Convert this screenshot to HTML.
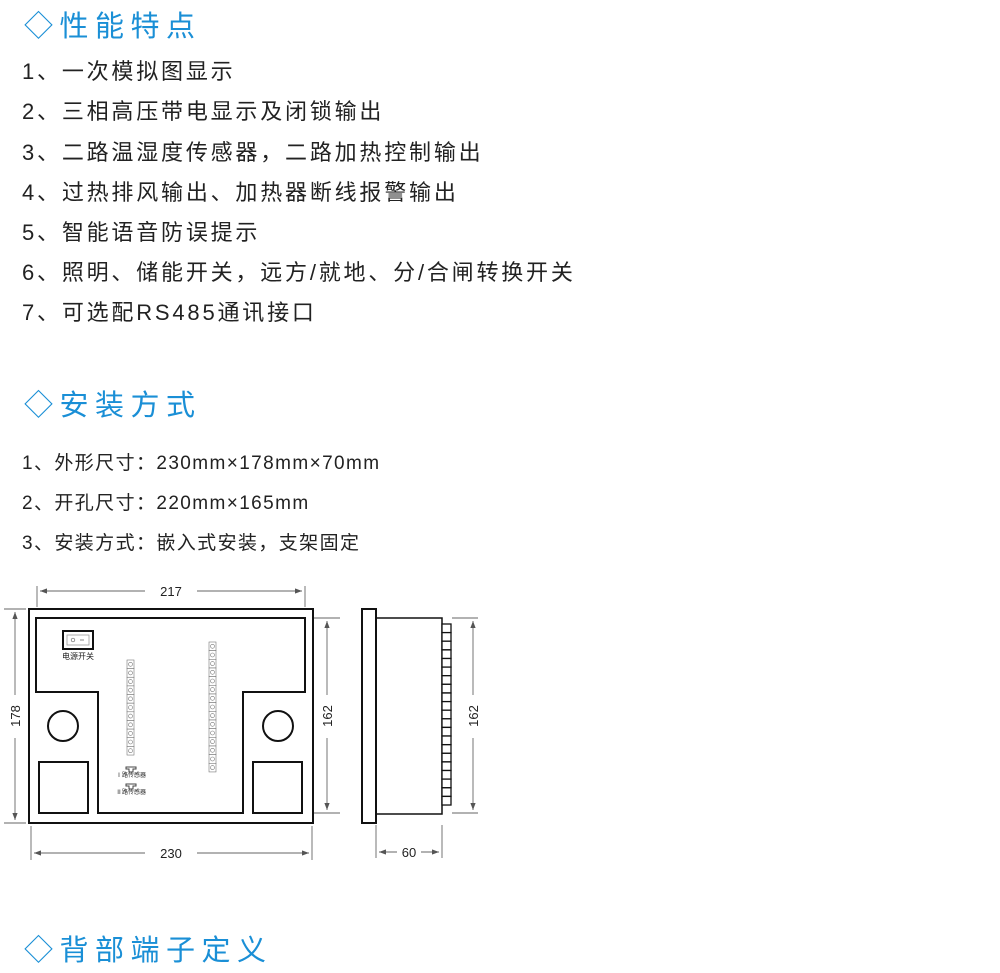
<!DOCTYPE html>
<html><head><meta charset="utf-8"><style>
body{margin:0;width:1000px;height:973px;background:#fff;position:relative;overflow:hidden;font-family:"Liberation Sans","Noto Sans CJK SC",sans-serif;}
.h{position:absolute;left:24px;color:#1a8fd6;font-size:29px;letter-spacing:6.5px;line-height:34px;white-space:nowrap}
.t{position:absolute;left:22px;color:#222;font-size:22px;letter-spacing:2.8px;line-height:26px;white-space:nowrap}
.s{position:absolute;left:22px;color:#222;font-size:19px;letter-spacing:1.4px;line-height:24px;white-space:nowrap}
svg{position:absolute;left:0;top:0}
</style></head><body>
<div class="h" style="top:10px">◇性能特点</div>
<div class="t" style="top:59px">1、一次模拟图显示</div>
<div class="t" style="top:99px">2、三相高压带电显示及闭锁输出</div>
<div class="t" style="top:140px">3、二路温湿度传感器，二路加热控制输出</div>
<div class="t" style="top:180px">4、过热排风输出、加热器断线报警输出</div>
<div class="t" style="top:220px">5、智能语音防误提示</div>
<div class="t" style="top:260px">6、照明、储能开关，远方/就地、分/合闸转换开关</div>
<div class="t" style="top:300px">7、可选配RS485通讯接口</div>
<div class="h" style="top:389px">◇安装方式</div>
<div class="s" style="top:452px">1、外形尺寸：230mm×178mm×70mm</div>
<div class="s" style="top:492px">2、开孔尺寸：220mm×165mm</div>
<div class="s" style="top:532px">3、安装方式：嵌入式安装，支架固定</div>
<div class="h" style="top:934px">◇背部端子定义</div>
<svg width="1000" height="973" xmlns="http://www.w3.org/2000/svg">
<defs>
<marker id="a" markerWidth="8" markerHeight="6" refX="8" refY="3" orient="auto-start-reverse"><path d="M0,0L8,3L0,6z" fill="#555"/></marker>
<g id="tc"><rect x="0" y="0" width="7" height="8.64" fill="#fff" stroke="#777" stroke-width="0.6"/><circle cx="3.5" cy="4.3" r="2" fill="none" stroke="#777" stroke-width="0.6"/></g>
<rect id="sc" x="0" y="0" width="9" height="8.62" fill="#fff" stroke="#111" stroke-width="1.3"/>
</defs>
<g fill="none" stroke="#111" stroke-width="2">
<rect x="29" y="609" width="284" height="214"/>
<path d="M36,618H305V692H243V813H98V692H36Z"/>
<circle cx="63" cy="726" r="15"/><circle cx="278" cy="726" r="15"/>
<rect x="39" y="762" width="49" height="51"/><rect x="253" y="762" width="49" height="51"/>
<rect x="63" y="631" width="30" height="18"/>
<rect x="362" y="609" width="14" height="214"/>
<rect x="376" y="618" width="66" height="196" stroke-width="1.5"/>
</g>
<rect x="67" y="635" width="22" height="10" fill="none" stroke="#999" stroke-width="0.8"/>
<circle cx="73" cy="640" r="1.8" fill="none" stroke="#666" stroke-width="0.7"/><line x1="80" y1="640" x2="84" y2="640" stroke="#666" stroke-width="0.8"/>
<text x="78" y="659" font-size="8" text-anchor="middle" fill="#222">电源开关</text>
<g transform="translate(127,0)">
<use href="#tc" y="660"/><use href="#tc" y="668.6"/><use href="#tc" y="677.3"/><use href="#tc" y="685.9"/><use href="#tc" y="694.5"/><use href="#tc" y="703.2"/><use href="#tc" y="711.8"/><use href="#tc" y="720.5"/><use href="#tc" y="729.1"/><use href="#tc" y="737.7"/><use href="#tc" y="746.4"/>
</g>
<g transform="translate(209,0)">
<use href="#tc" y="642"/><use href="#tc" y="650.7"/><use href="#tc" y="659.3"/><use href="#tc" y="668"/><use href="#tc" y="676.7"/><use href="#tc" y="685.3"/><use href="#tc" y="694"/><use href="#tc" y="702.7"/><use href="#tc" y="711.3"/><use href="#tc" y="720"/><use href="#tc" y="728.7"/><use href="#tc" y="737.3"/><use href="#tc" y="746"/><use href="#tc" y="754.7"/><use href="#tc" y="763.3"/>
</g>
<g transform="translate(442,0)">
<use href="#sc" y="624"/><use href="#sc" y="632.6"/><use href="#sc" y="641.2"/><use href="#sc" y="649.9"/><use href="#sc" y="658.5"/><use href="#sc" y="667.1"/><use href="#sc" y="675.7"/><use href="#sc" y="684.3"/><use href="#sc" y="693"/><use href="#sc" y="701.6"/><use href="#sc" y="710.2"/><use href="#sc" y="718.8"/><use href="#sc" y="727.4"/><use href="#sc" y="736"/><use href="#sc" y="744.7"/><use href="#sc" y="753.3"/><use href="#sc" y="761.9"/><use href="#sc" y="770.5"/><use href="#sc" y="779.1"/><use href="#sc" y="787.8"/><use href="#sc" y="796.4"/>
</g>
<g stroke="#444" stroke-width="1" fill="none">
<path d="M126,767h10v2h-3v3h-4v-3h-3z"/>
<path d="M126,784h10v2h-3v3h-4v-3h-3z"/>
</g>
<text x="131" y="777" font-size="6" text-anchor="middle" fill="#222">Ⅰ路传感器</text>
<text x="131" y="794" font-size="6" text-anchor="middle" fill="#222">Ⅱ路传感器</text>
<g stroke="#666" stroke-width="0.9" fill="none">
<line x1="37" y1="586" x2="37" y2="607"/><line x1="305" y1="586" x2="305" y2="607"/>
<line x1="40" y1="591" x2="145" y2="591" marker-start="url(#a)"/><line x1="197" y1="591" x2="302" y2="591" marker-end="url(#a)"/>
<line x1="4" y1="609" x2="26" y2="609"/><line x1="4" y1="823" x2="26" y2="823"/>
<line x1="15" y1="612" x2="15" y2="695" marker-start="url(#a)"/><line x1="15" y1="738" x2="15" y2="820" marker-end="url(#a)"/>
<line x1="314" y1="618" x2="340" y2="618"/><line x1="314" y1="813" x2="340" y2="813"/>
<line x1="327" y1="621" x2="327" y2="695" marker-start="url(#a)"/><line x1="327" y1="738" x2="327" y2="810" marker-end="url(#a)"/>
<line x1="31" y1="826" x2="31" y2="860"/><line x1="312" y1="826" x2="312" y2="860"/>
<line x1="34" y1="853" x2="145" y2="853" marker-start="url(#a)"/><line x1="197" y1="853" x2="309" y2="853" marker-end="url(#a)"/>
<line x1="452" y1="618" x2="478" y2="618"/><line x1="452" y1="813" x2="478" y2="813"/>
<line x1="473" y1="621" x2="473" y2="695" marker-start="url(#a)"/><line x1="473" y1="738" x2="473" y2="810" marker-end="url(#a)"/>
<line x1="376" y1="825" x2="376" y2="858"/><line x1="442" y1="825" x2="442" y2="858"/>
<line x1="379" y1="852" x2="397" y2="852" marker-start="url(#a)"/><line x1="421" y1="852" x2="439" y2="852" marker-end="url(#a)"/>
</g>
<g font-size="13" fill="#222" text-anchor="middle">
<text x="171" y="596">217</text>
<text x="171" y="858">230</text>
<text x="409" y="857">60</text>
<text transform="translate(20,716) rotate(-90)">178</text>
<text transform="translate(332,716) rotate(-90)">162</text>
<text transform="translate(478,716) rotate(-90)">162</text>
</g>
</svg>
</body></html>
